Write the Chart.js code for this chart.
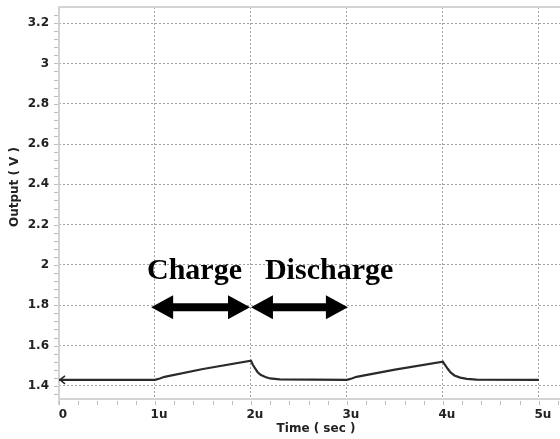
<!DOCTYPE html>
<html>
<head>
<meta charset="utf-8">
<script src="https://cdn.jsdelivr.net/npm/chart.js@4.4.1/dist/chart.umd.min.js"></script>
<style>
  html, body { margin: 0; padding: 0; background: #fff; }
  #wrap { width: 560px; height: 439px; }
</style>
</head>
<body>
<div id="wrap"><canvas id="myChart"></canvas></div>
<script>
// transient output of the charge/discharge circuit
const times  = [0, 1.0, 1.05, 1.1, 1.5, 2.0, 2.02, 2.04, 2.07, 2.1, 2.15, 2.2, 2.3, 3.0, 3.05, 3.1, 3.5, 4.0, 4.02, 4.05, 4.08, 4.12, 4.18, 4.25, 4.35, 5.0];
const output = [1.43, 1.43, 1.437, 1.445, 1.484, 1.525, 1.505, 1.489, 1.468, 1.455, 1.444, 1.437, 1.432, 1.43, 1.437, 1.445, 1.481, 1.52, 1.505, 1.485, 1.467, 1.452, 1.441, 1.435, 1.431, 1.43];

const xTicks = [0, 1, 2, 3, 4, 5];
const yTicks = [1.4, 1.6, 1.8, 2, 2.2, 2.4, 2.6, 2.8, 3, 3.2];

// annotation arrows (time from, time to) and their labels
const phaseLabels = ['Charge', 'Discharge'];
const phaseArrows = [[0.96, 1.99], [2.0, 3.01]];
const arrowLevel = 1.79;
const labelLevel = 1.93;

const gridColor = '#a0a0a0';
const frameColor = '#d4d4d4';
const axisFont = '"DejaVu Sans", Verdana, sans-serif';

function drawArrow(ctx, x1, x2, y) {
  const head = 22, half = 12, shaft = 4;
  ctx.beginPath();
  ctx.moveTo(x1, y);
  ctx.lineTo(x1 + head, y - half);
  ctx.lineTo(x1 + head, y - shaft);
  ctx.lineTo(x2 - head, y - shaft);
  ctx.lineTo(x2 - head, y - half);
  ctx.lineTo(x2, y);
  ctx.lineTo(x2 - head, y + half);
  ctx.lineTo(x2 - head, y + shaft);
  ctx.lineTo(x1 + head, y + shaft);
  ctx.lineTo(x1 + head, y + half);
  ctx.closePath();
  ctx.fill();
}

const decorations = {
  id: 'decorations',
  beforeDraw(chart) {
    const { ctx } = chart;
    ctx.save();
    ctx.fillStyle = '#fff';
    ctx.fillRect(0, 0, chart.width, chart.height);
    ctx.restore();
  },
  beforeDatasetsDraw(chart) {
    const { ctx, chartArea: a, scales: { x, y } } = chart;
    ctx.save();
    // frame
    ctx.strokeStyle = frameColor;
    ctx.lineWidth = 2;
    ctx.beginPath();
    ctx.moveTo(a.left, a.bottom + 6);
    ctx.lineTo(a.left, a.top);
    ctx.lineTo(a.right, a.top);
    ctx.moveTo(a.left, a.bottom);
    ctx.lineTo(a.right, a.bottom);
    ctx.stroke();
    // minor ticks
    ctx.lineWidth = 1;
    ctx.strokeStyle = '#bdbdbd';
    ctx.beginPath();
    for (let t = 0; t <= 5.2001; t += 0.2) {
      const px = Math.round(x.getPixelForValue(t)) + 0.5;
      ctx.moveTo(px, a.bottom + 2);
      ctx.lineTo(px, a.bottom + 6);
    }
    for (let v = 1.36; v <= 3.28; v += 0.04) {
      const py = Math.round(y.getPixelForValue(v)) + 0.5;
      ctx.moveTo(a.left - 5, py);
      ctx.lineTo(a.left - 1, py);
    }
    ctx.stroke();
    ctx.restore();
  },
  afterDatasetsDraw(chart) {
    const { ctx, scales: { x, y } } = chart;
    ctx.save();
    // start marker on the trace
    const x0 = x.getPixelForValue(times[0]);
    const y0 = y.getPixelForValue(output[0]);
    ctx.strokeStyle = '#2a2a2a';
    ctx.lineWidth = 1.6;
    ctx.beginPath();
    ctx.moveTo(x0 + 6, y0 - 4);
    ctx.lineTo(x0 + 1, y0);
    ctx.lineTo(x0 + 6, y0 + 4);
    ctx.stroke();

    // charge / discharge arrows
    ctx.fillStyle = '#000';
    const ay = y.getPixelForValue(arrowLevel);
    phaseArrows.forEach(([t1, t2]) => {
      drawArrow(ctx, x.getPixelForValue(t1), x.getPixelForValue(t2), ay);
    });
    ctx.font = 'bold 30px "Liberation Serif", "Times New Roman", serif';
    ctx.textBaseline = 'alphabetic';
    ctx.textAlign = 'left';
    const ly = y.getPixelForValue(labelLevel);
    ctx.fillText(phaseLabels[0], x.getPixelForValue(1) - 8, ly);
    ctx.fillText(phaseLabels[1], x.getPixelForValue(2) + 14, ly);

    // axis titles
    ctx.fillStyle = '#222';
    ctx.font = 'bold 12px ' + axisFont;
    ctx.textAlign = 'center';
    ctx.textBaseline = 'middle';
    ctx.fillText('Time ( sec )', 316, 429);
    ctx.translate(15, 187);
    ctx.rotate(-Math.PI / 2);
    ctx.fillText('Output ( V )', 0, 0);
    ctx.restore();
  }
};

const ctx = document.getElementById('myChart').getContext('2d');
new Chart(ctx, {
  type: 'line',
  data: {
    datasets: [{
      data: times.map((t, i) => ({ x: t, y: output[i] })),
      borderColor: '#2a2a2a',
      borderWidth: 2.2,
      pointRadius: 0,
      tension: 0,
      fill: false
    }]
  },
  options: {
    responsive: true,
    maintainAspectRatio: false,
    animation: false,
    layout: { padding: { top: 7, right: 0, left: 0, bottom: 0 } },
    plugins: {
      legend: { display: false },
      tooltip: { enabled: false }
    },
    scales: {
      x: {
        type: 'linear',
        min: 0,
        max: 5.22,
        afterFit: s => { s.height = 40; s.paddingLeft = 0; s.paddingRight = 0; },
        afterBuildTicks: s => { s.ticks = xTicks.map(v => ({ value: v })); },
        border: { display: false, dash: [2, 2] },
        grid: {
          drawTicks: false,
          color: c => c.tick && c.tick.value === 0 ? 'rgba(0,0,0,0)' : gridColor,
          lineWidth: 1
        },
        ticks: {
          padding: 9,
          labelOffset: 4,
          color: '#222',
          font: { family: axisFont, size: 12, weight: 'bold' },
          callback: v => v === 0 ? '0' : v + 'u'
        }
      },
      y: {
        min: 1.335,
        max: 3.28,
        afterFit: s => { s.width = 59; s.paddingTop = 0; s.paddingBottom = 0; },
        afterBuildTicks: s => { s.ticks = yTicks.map(v => ({ value: v })); },
        border: { display: false, dash: [2, 2] },
        grid: {
          drawTicks: false,
          color: gridColor,
          lineWidth: 1
        },
        ticks: {
          padding: 10,
          color: '#222',
          font: { family: axisFont, size: 12, weight: 'bold' },
          callback: v => String(v)
        }
      }
    }
  },
  plugins: [decorations]
});
</script>
</body>
</html>
